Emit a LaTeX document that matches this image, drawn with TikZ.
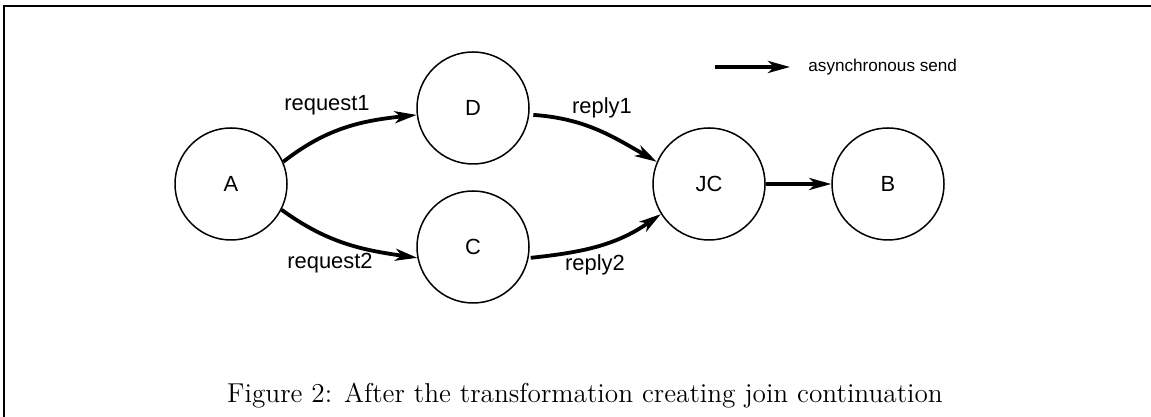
\documentclass[tikz,border=0pt]{standalone}
\usepackage{fontspec}
\newfontfamily\helv{Liberation Sans}
\usetikzlibrary{arrows.meta}
\begin{document}
\begin{tikzpicture}[x=0.5bp,y=0.5bp,
  state/.style={circle,draw,line width=0.75bp,minimum size=56bp,inner sep=0pt,
                font=\helv\fontsize{11}{13}\selectfont},
  msg/.style={line width=1.9bp,-{Stealth[length=11bp,width=6bp,inset=3bp]}},
  lbl/.style={inner sep=0pt,font=\helv\fontsize{11}{13}\selectfont}]
\useasboundingbox (0,0) rectangle (1151,417);
% frame
\draw[line width=1.4bp] (4,0) -- (4,411) -- (1151,411);

% processes
\node[state] (A)  at (231,233) {A};
\node[state] (D)  at (473,309) {D};
\node[state] (C)  at (473,170) {C};
\node[state] (JC) at (709,233) {JC};
\node[state] (B)  at (888,233) {B};

% messages
\draw[msg] (A.23)  to[out=38,in=186]  (D.187);
\draw[msg] (A.-27) to[out=-36,in=172] (C.191);
\draw[msg] ([xshift=2bp]D.-7) to[out=-4,in=150] (JC.157);
\draw[msg] ([xshift=1bp]C.-11) to[out=6,in=215] (JC.212);
\draw[msg] (JC) -- (B);

% labels
\node[lbl] (r1) at (327,312) {request1};
\node[lbl] (r2) at (330,154) {request2};
\node[lbl] (p1) at (602,309) {reply1};
\node[lbl] (p2) at (595,152) {reply2};

% legend
\coordinate (l0) at (715,350);
\coordinate (l1) at (790,350);
\draw[msg] (l0) -- (l1);
\node[inner sep=0pt,anchor=west,font=\helv\fontsize{8.6}{10}\selectfont] (leg) at (808,350) {asynchronous send};

% caption
\node[inner sep=0pt,anchor=base,font=\fontsize{13.7}{16}\selectfont] (cap) at (585,14)
  {Figure 2: After the transformation creating join continuation};
\end{tikzpicture}
\end{document}
